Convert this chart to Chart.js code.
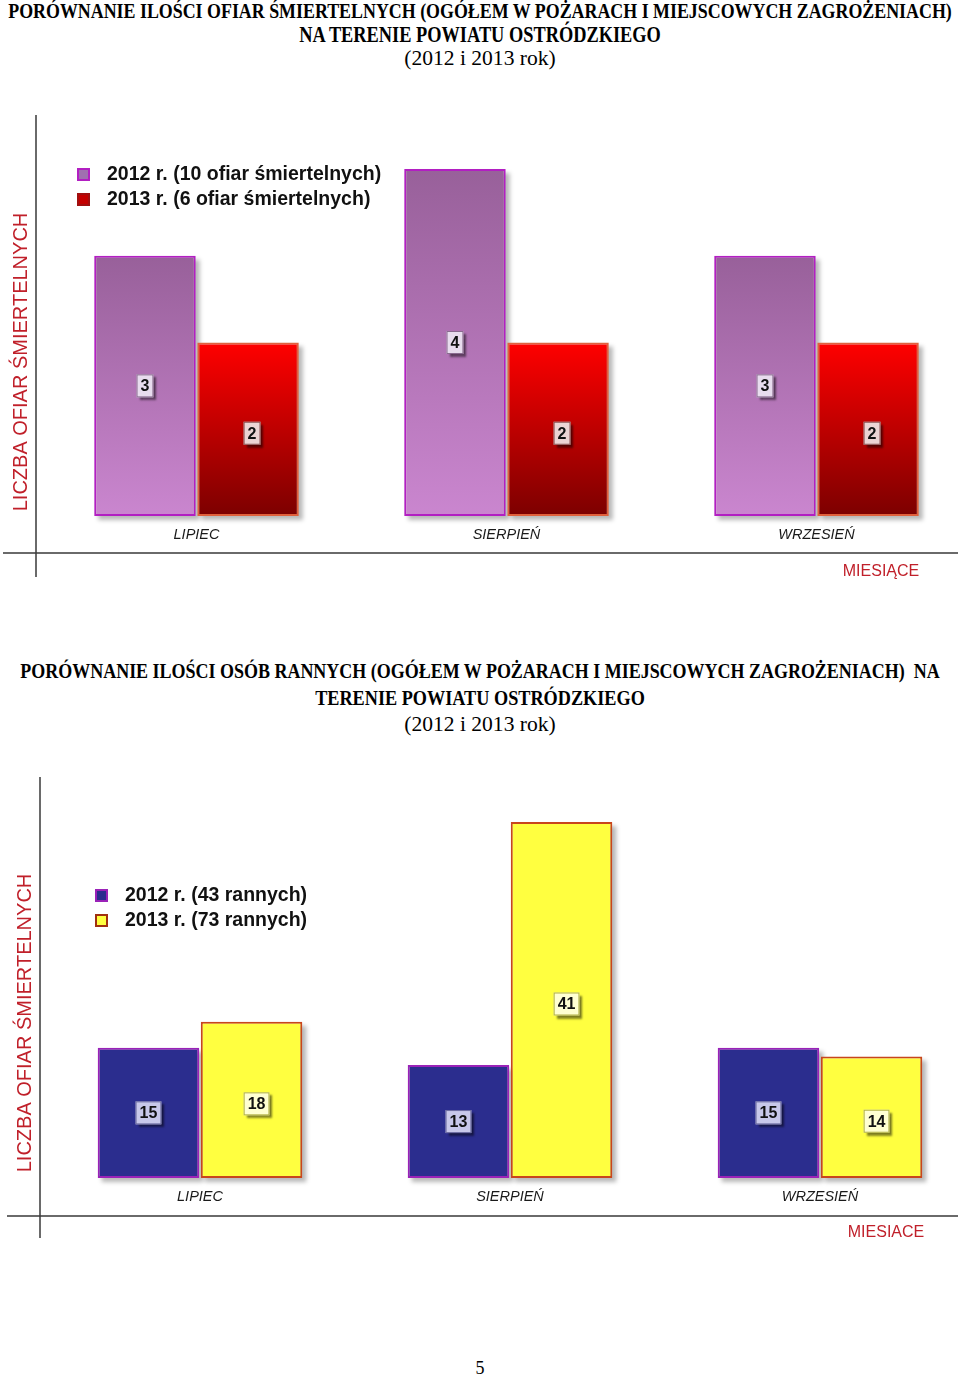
<!DOCTYPE html>
<html>
<head>
<meta charset="utf-8">
<script src="https://cdn.jsdelivr.net/npm/chart.js@4.4.0/dist/chart.umd.min.js"></script>
<style>
  body { margin: 0; width: 960px; height: 1377px; position: relative; overflow: hidden; background: #fff; font-family: "Liberation Serif", serif; }
  .t { position: absolute; left: 0; width: 960px; text-align: center; color: #000; white-space: nowrap; line-height: 1; }
  .t span { display: inline-block; }
  .b { font-weight: bold; font-size: 18px; }
  .b span { transform: scaleY(1.2); }
  .r { font-size: 20px; }
  .box { position: absolute; left: 0; width: 960px; height: 520px; }
</style>
</head>
<body>

<div class="t b" data-w="944" data-y="12"><span>PORÓWNANIE ILOŚCI OFIAR ŚMIERTELNYCH (OGÓŁEM W POŻARACH I MIEJSCOWYCH ZAGROŻENIACH)</span></div>
<div class="t b" data-w="362" data-y="35"><span>NA TERENIE POWIATU OSTRÓDZKIEGO</span></div>
<div class="t r" data-w="152" data-y="59"><span>(2012 i 2013 rok)</span></div>
<div class="box" style="top:100px"><canvas id="ofiaryChart" width="960" height="520"></canvas></div>

<div class="t b" data-w="920" data-y="671"><span>PORÓWNANIE ILOŚCI OSÓB RANNYCH (OGÓŁEM W POŻARACH I MIEJSCOWYCH ZAGROŻENIACH)&nbsp; NA</span></div>
<div class="t b" data-w="330" data-y="698"><span>TERENIE POWIATU OSTRÓDZKIEGO</span></div>
<div class="t r" data-w="152" data-y="725"><span>(2012 i 2013 rok)</span></div>
<div class="box" style="top:760px"><canvas id="ranniChart" width="960" height="520"></canvas></div>

<div class="t r" data-y="1368" style="font-size:18px"><span>5</span></div>

<script>
// dane z wykresów
const miesiace = ['LIPIEC', 'SIERPIEŃ', 'WRZESIEŃ'];
const ofiary2012 = [3, 4, 3];
const ofiary2013 = [2, 2, 2];
const ranni2012 = [15, 13, 15];
const ranni2013 = [18, 41, 14];
const etykietyOfiary = ['2012 r. (10 ofiar śmiertelnych)', '2013 r. (6 ofiar śmiertelnych)'];
const etykietyRanni = ['2012 r. (43 rannych)', '2013 r. (73 rannych)'];

// dopasowanie nagłówków do szerokości z oryginału
document.querySelectorAll('.t').forEach(el => {
  const span = el.firstElementChild;
  let size = parseFloat(getComputedStyle(el).fontSize);
  if (el.dataset.w) {
    size = size * el.dataset.w / span.offsetWidth;
    el.style.fontSize = size + 'px';
  }
  el.style.top = (el.dataset.y - size / 2) + 'px';
});

// gradient pionowy dla każdego słupka osobno
function gradient(gora, dol) {
  return function (ctx) {
    const chart = ctx.chart;
    if (!chart.chartArea || ctx.type !== 'data') return dol;
    const y = chart.scales.y;
    const g = chart.ctx.createLinearGradient(0, y.getPixelForValue(ctx.raw), 0, y.getPixelForValue(0));
    g.addColorStop(0, gora);
    g.addColorStop(1, dol);
    return g;
  };
}

// cienie pod słupkami
const cien = {
  id: 'cien',
  beforeDatasetsDraw(chart) {
    const c = chart.ctx;
    c.save();
    c.fillStyle = 'rgba(0,0,0,0.28)';
    c.filter = 'blur(2px)';
    chart.data.datasets.forEach((ds, i) => {
      chart.getDatasetMeta(i).data.forEach(bar => {
        const p = bar.getProps(['x', 'y', 'base', 'width'], true);
        c.fillRect(p.x - p.width / 2 + 4, p.y + 4, p.width, p.base - p.y);
      });
    });
    c.restore();
  }
};

// osie, tytuły osi, legenda i etykiety wartości
const ozdoby = {
  id: 'ozdoby',
  afterDatasetsDraw(chart, args, o) {
    const c = chart.ctx;
    c.save();

    // etykiety wartości
    chart.data.datasets.forEach((ds, i) => {
      const styl = o.etykiety[i];
      chart.getDatasetMeta(i).data.forEach((bar, j) => {
        const p = bar.getProps(['x', 'y', 'base'], true);
        const txt = String(ds.data[j]);
        c.font = 'bold 16px "Liberation Sans", Arial';
        const w = c.measureText(txt).width + 8;
        const h = 23;
        const cx = p.x + styl.dx;
        const cy = (p.y + p.base) / 2 + styl.dy;
        c.save();
        c.shadowColor = 'rgba(0,0,0,0.5)';
        c.shadowOffsetX = 3;
        c.shadowOffsetY = 3;
        c.shadowBlur = 2;
        c.fillStyle = styl.tlo;
        c.fillRect(cx - w / 2, cy - h / 2, w, h);
        c.restore();
        c.strokeStyle = styl.ramka;
        c.lineWidth = 1;
        c.strokeRect(cx - w / 2 + 0.5, cy - h / 2 + 0.5, w - 1, h - 1);
        c.fillStyle = '#111';
        c.textAlign = 'center';
        c.textBaseline = 'middle';
        c.fillText(txt, cx, cy + 1);
      });
    });

    // linie osi
    c.strokeStyle = '#3a3a3a';
    c.lineWidth = 1.5;
    c.beginPath();
    c.moveTo(o.osY.x, o.osY.y1);
    c.lineTo(o.osY.x, o.osY.y2);
    c.moveTo(o.osX.x1, o.osX.y);
    c.lineTo(o.osX.x2, o.osX.y);
    c.stroke();

    // tytuł osi Y
    c.fillStyle = '#c0202a';
    c.font = '20px "Liberation Sans", Arial';
    c.textAlign = 'center';
    c.textBaseline = 'middle';
    c.save();
    c.translate(o.tytulY.x, o.tytulY.y);
    c.rotate(-Math.PI / 2);
    c.fillText(o.tytulY.tekst, 0, 0);
    c.restore();

    // tytuł osi X
    c.font = '16px "Liberation Sans", Arial';
    c.fillText(o.tytulX.tekst, o.tytulX.x, o.tytulX.y);

    // legenda
    c.font = 'bold 19.5px "Liberation Sans", Arial';
    c.textAlign = 'left';
    o.legenda.kolory.forEach((k, i) => {
      const y = o.legenda.y + i * 25;
      c.fillStyle = k.tlo;
      c.fillRect(o.legenda.x, y - 6, 13, 13);
      c.strokeStyle = k.ramka;
      c.lineWidth = 2;
      c.strokeRect(o.legenda.x + 1, y - 5, 11, 11);
      c.fillStyle = '#111';
      c.fillText(chart.data.datasets[i].label, o.legenda.x + 30, y + 1);
    });

    c.restore();
  }
};

function opcje(padding, max, dekor) {
  return {
    responsive: false,
    animation: false,
    layout: { padding: padding },
    plugins: {
      legend: { display: false },
      tooltip: { enabled: false },
      ozdoby: dekor
    },
    scales: {
      x: {
        offset: false,
        grid: { display: false, drawTicks: false },
        border: { display: false },
        ticks: {
          padding: 10,
          color: '#1a1a1a',
          font: { family: '"Liberation Sans", Arial', size: 14.5, style: 'italic' }
        },
        afterFit(scale) { scale.height = 520 - dekor.podstawa; }
      },
      y: { display: false, min: 0, max: max }
    }
  };
}

// Wykres 1 - ofiary śmiertelne
const ofiaryChart = new Chart(document.getElementById('ofiaryChart'), {
  type: 'bar',
  data: {
    labels: miesiace,
    datasets: [
      {
        label: etykietyOfiary[0],
        data: ofiary2012,
        backgroundColor: gradient('#98609a', '#ca86cf'),
        borderColor: '#b21fc2',
        borderWidth: 2,
        borderSkipped: false,
        categoryPercentage: 0.665,
        barPercentage: 0.985,
        clip: false
      },
      {
        label: etykietyOfiary[1],
        data: ofiary2013,
        backgroundColor: gradient('#ff0000', '#7c0000'),
        borderColor: '#e0603c',
        borderWidth: 2,
        borderSkipped: false,
        categoryPercentage: 0.665,
        barPercentage: 0.985,
        clip: false
      }
    ]
  },
  options: opcje({ left: 196.5, right: 143.5, top: 69, bottom: 0 }, 4, {
    podstawa: 416,
    etykiety: [
      { tlo: '#e8dcee', ramka: '#8a6a90', dx: 0, dy: 0 },
      { tlo: '#ecd4d4', ramka: '#8a5050', dx: 4, dy: 4 }
    ],
    osY: { x: 36, y1: 15, y2: 477 },
    osX: { x1: 3, x2: 958, y: 453 },
    tytulY: { x: 21, y: 262, tekst: 'LICZBA OFIAR ŚMIERTELNYCH' },
    tytulX: { x: 881, y: 472, tekst: 'MIESIĄCE' },
    legenda: {
      x: 77, y: 74,
      kolory: [
        { tlo: '#a070b0', ramka: '#b21fc2' },
        { tlo: '#c40000', ramka: '#a01010' }
      ]
    }
  }),
  plugins: [cien, ozdoby]
});

// Wykres 2 - osoby ranne
const ranniChart = new Chart(document.getElementById('ranniChart'), {
  type: 'bar',
  data: {
    labels: miesiace,
    datasets: [
      {
        label: etykietyRanni[0],
        data: ranni2012,
        backgroundColor: '#2b2d8e',
        borderColor: '#9a22b8',
        borderWidth: 2,
        borderSkipped: false,
        categoryPercentage: 0.665,
        barPercentage: 0.985,
        clip: false
      },
      {
        label: etykietyRanni[1],
        data: ranni2013,
        backgroundColor: '#ffff40',
        borderColor: '#c8461c',
        borderWidth: 2,
        borderSkipped: false,
        categoryPercentage: 0.665,
        barPercentage: 0.985,
        clip: false
      }
    ]
  },
  options: opcje({ left: 200, right: 140, top: 62, bottom: 0 }, 41, {
    podstawa: 418,
    etykiety: [
      { tlo: '#c8c8ea', ramka: '#6a6aa0', dx: 0, dy: 0 },
      { tlo: '#ffffd2', ramka: '#b0b040', dx: 5, dy: 4 }
    ],
    osY: { x: 40, y1: 17, y2: 478 },
    osX: { x1: 7, x2: 958, y: 456 },
    tytulY: { x: 25, y: 263, tekst: 'LICZBA OFIAR ŚMIERTELNYCH' },
    tytulX: { x: 886, y: 473, tekst: 'MIESIACE' },
    legenda: {
      x: 95, y: 135,
      kolory: [
        { tlo: '#2b2d8e', ramka: '#9a22b8' },
        { tlo: '#ffff40', ramka: '#a03010' }
      ]
    }
  }),
  plugins: [cien, ozdoby]
});
</script>
</body>
</html>
